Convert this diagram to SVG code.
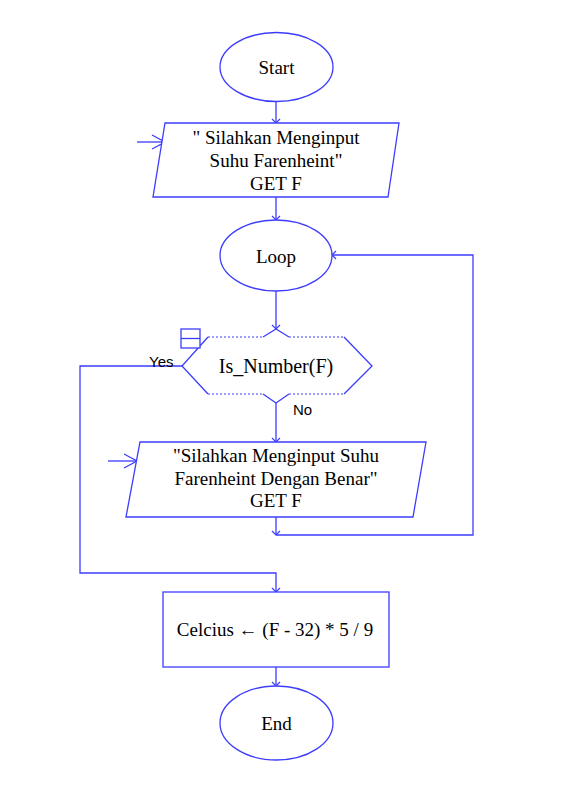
<svg xmlns="http://www.w3.org/2000/svg" width="583" height="797" viewBox="0 0 583 797">
<defs>
<style>
.s{fill:#fff;stroke:#3c3cff;stroke-width:1.3}
.ln{fill:none;stroke:#3c3cff;stroke-width:1.3}
.dot{fill:none;stroke:#3c3cff;stroke-width:1.2;stroke-dasharray:2,2}
.t{font-family:"Liberation Serif","Times New Roman",serif;font-size:19px;fill:#000;text-anchor:middle}
.lb{font-family:"Liberation Sans",Arial,sans-serif;font-size:15px;fill:#000}
</style>
<marker id="ah" markerWidth="10" markerHeight="10" refX="5" refY="5" orient="auto" markerUnits="userSpaceOnUse" viewBox="0 0 10 10">
<path d="M1,1 L5,5 L1,9" fill="none" stroke="#3c3cff" stroke-width="1.2"/>
</marker>
<marker id="big" markerWidth="20" markerHeight="20" refX="15" refY="10" orient="auto" markerUnits="userSpaceOnUse" viewBox="0 0 20 20">
<path d="M2,3 L15,10 L2,17" fill="none" stroke="#3c3cff" stroke-width="1.3"/>
</marker>
</defs>
<rect width="583" height="797" fill="#fff"/>
<g id="connectors">
<line class="ln" x1="276" y1="101" x2="276" y2="123" marker-end="url(#ah)"/>
<line class="ln" x1="276" y1="197" x2="276" y2="220" marker-end="url(#ah)"/>
<line class="ln" x1="276" y1="291" x2="276" y2="329" marker-end="url(#ah)"/>
<line class="ln" x1="276" y1="403" x2="276" y2="442" marker-end="url(#ah)"/>
<line class="ln" x1="276" y1="517" x2="276" y2="535" marker-end="url(#ah)"/>
<polyline class="ln" points="276,535 473,535 473,255 332,255" marker-end="url(#ah)"/>
<polyline class="ln" points="182,366 80,366 80,573 276,573 276,592" marker-end="url(#ah)"/>
<line class="ln" x1="276" y1="667" x2="276" y2="686" marker-end="url(#ah)"/>
<line class="ln" x1="137" y1="142" x2="165" y2="142" marker-end="url(#big)"/>
<line class="ln" x1="108" y1="461" x2="137" y2="461" marker-end="url(#big)"/>
<text class="lb" x="149" y="367">Yes</text>
<text class="lb" x="293" y="415">No</text>
</g>
<g id="start">
<ellipse class="s" cx="276.5" cy="67" rx="56.5" ry="34.5"/>
<text class="t" x="276.5" y="74">Start</text>
</g>
<g id="input1">
<polygon class="s" points="165,123 399,123 388,197 153,197"/>
<text class="t" x="276" y="144">" Silahkan Menginput</text>
<text class="t" x="276" y="167">Suhu Farenheint"</text>
<text class="t" x="276" y="190">GET F</text>
</g>
<g id="loop">
<ellipse class="s" cx="276" cy="255.5" rx="56" ry="35.5"/>
<text class="t" x="276" y="263">Loop</text>
</g>
<g id="decision">
<polygon points="182,366 208,337 263,337 276,329 289,337 344,337 372,366 344,394 289,394 276,403 263,394 208,394" fill="#fff" stroke="none"/>
<polyline class="ln" points="208,337 182,366 208,394"/>
<polyline class="ln" points="344,337 372,366 344,394"/>
<polyline class="ln" points="263,337 276,329 289,337"/>
<polyline class="ln" points="263,394 276,403 289,394"/>
<line class="dot" x1="208" y1="337" x2="263" y2="337"/>
<line class="dot" x1="289" y1="337" x2="344" y2="337"/>
<line class="dot" x1="208" y1="394" x2="263" y2="394"/>
<line class="dot" x1="289" y1="394" x2="344" y2="394"/>
<rect class="s" x="181" y="329" width="19" height="19"/>
<line class="ln" x1="181" y1="338.5" x2="200" y2="338.5"/>
<text class="t" x="276" y="373" style="font-size:20px">Is_Number(F)</text>
</g>
<g id="input2">
<polygon class="s" points="140,442 426,442 413,517 126,517"/>
<text class="t" x="276" y="462">"Silahkan Menginput Suhu</text>
<text class="t" x="276" y="485">Farenheint Dengan Benar"</text>
<text class="t" x="276" y="507">GET F</text>
</g>
<g id="process">
<rect class="s" x="163" y="592" width="226" height="75"/>
<text class="t" x="275" y="636">Celcius ← (F - 32) * 5 / 9</text>
</g>
<g id="end">
<ellipse class="s" cx="276.5" cy="723" rx="56.5" ry="37"/>
<text class="t" x="276.5" y="730">End</text>
</g>
</svg>
